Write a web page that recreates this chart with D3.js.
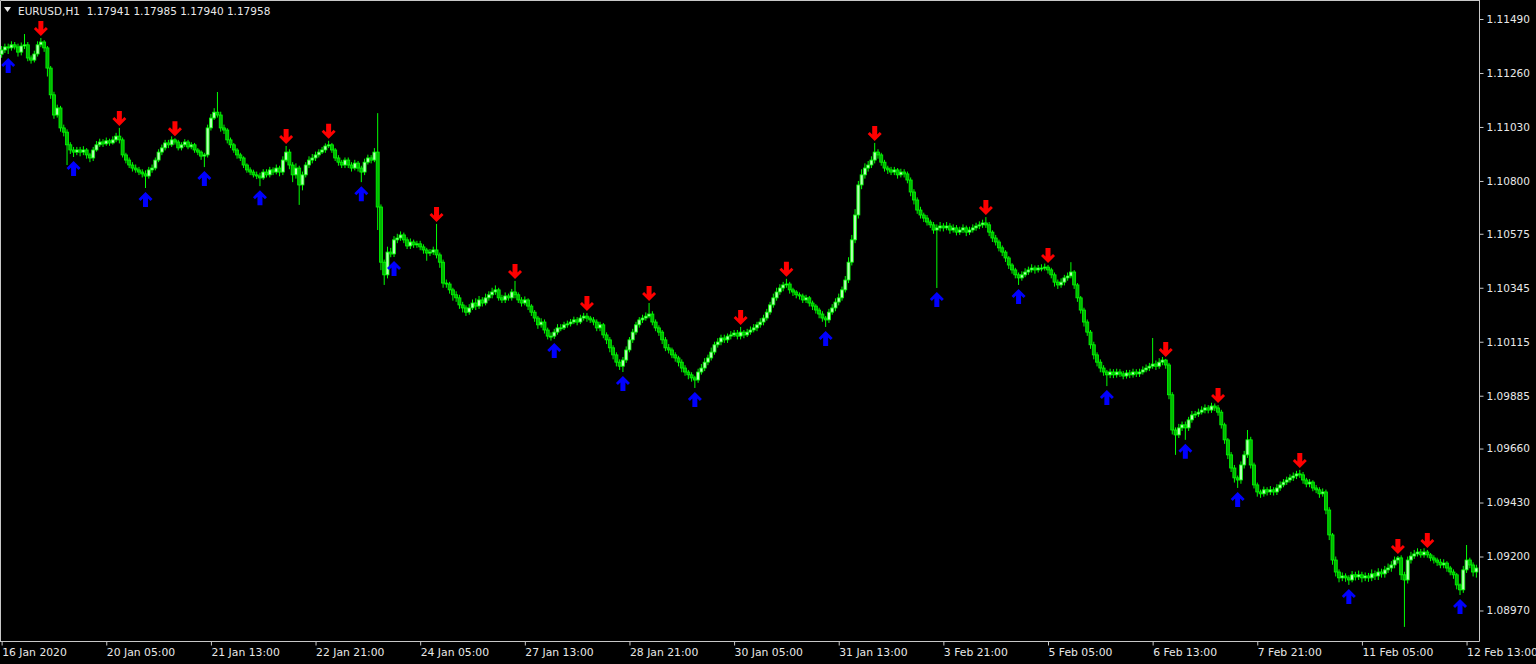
<!DOCTYPE html>
<html><head><meta charset="utf-8">
<script src="https://cdn.jsdelivr.net/npm/d3@7"></script>
<style>html,body{margin:0;padding:0;background:#000;overflow:hidden}</style>
</head><body><svg id="c" width="1536" height="664"></svg>
<script>
const symbolTitle = "EURUSD,H1";
const headerQuote = ["1.17941", "1.17985", "1.17940", "1.17958"];
const firstOpen = 1.11340;

const closes = [
1.11358,1.11371,1.11367,1.11380,1.11371,1.11349,1.11375,1.11380,1.11324,1.11315,
1.11341,1.11380,1.11392,1.11367,1.11281,1.11167,1.11081,1.11111,1.11026,1.11008,
1.10954,1.10932,1.10923,1.10932,1.10923,1.10932,1.10911,1.10898,1.10932,1.10954,
1.10966,1.10958,1.10971,1.10962,1.10975,1.10991,1.10975,1.10911,1.10889,1.10868,
1.10855,1.10847,1.10838,1.10830,1.10821,1.10847,1.10855,1.10889,1.10923,1.10941,
1.10962,1.10954,1.10975,1.10966,1.10941,1.10954,1.10966,1.10945,1.10954,1.10932,
1.10923,1.10906,1.10911,1.11026,1.11068,1.11093,1.11081,1.11026,1.11017,1.10975,
1.10954,1.10932,1.10911,1.10898,1.10868,1.10847,1.10838,1.10826,1.10821,1.10813,
1.10838,1.10826,1.10847,1.10838,1.10855,1.10838,1.10889,1.10923,1.10868,1.10826,
1.10855,1.10783,1.10826,1.10868,1.10889,1.10898,1.10911,1.10923,1.10932,1.10949,
1.10954,1.10932,1.10898,1.10880,1.10868,1.10889,1.10868,1.10855,1.10876,1.10855,
1.10838,1.10880,1.10898,1.10889,1.10923,1.10689,1.10454,1.10400,1.10497,1.10489,
1.10549,1.10557,1.10570,1.10549,1.10523,1.10540,1.10528,1.10532,1.10519,1.10506,
1.10493,1.10497,1.10506,1.10485,1.10454,1.10365,1.10361,1.10336,1.10315,1.10302,
1.10272,1.10259,1.10241,1.10259,1.10280,1.10267,1.10293,1.10280,1.10302,1.10315,
1.10327,1.10336,1.10302,1.10293,1.10310,1.10302,1.10327,1.10315,1.10293,1.10280,
1.10293,1.10267,1.10241,1.10216,1.10187,1.10199,1.10165,1.10139,1.10139,1.10156,
1.10174,1.10174,1.10187,1.10191,1.10199,1.10208,1.10199,1.10216,1.10224,1.10216,
1.10208,1.10199,1.10174,1.10187,1.10144,1.10123,1.10089,1.10059,1.10028,1.10011,
1.10037,1.10080,1.10123,1.10156,1.10187,1.10208,1.10216,1.10224,1.10233,1.10199,
1.10174,1.10156,1.10123,1.10089,1.10080,1.10059,1.10046,1.10028,1.10003,1.09986,
1.09974,1.09961,1.09952,1.09986,1.10003,1.10028,1.10046,1.10071,1.10102,1.10114,
1.10131,1.10123,1.10139,1.10144,1.10152,1.10139,1.10156,1.10144,1.10156,1.10165,
1.10174,1.10187,1.10199,1.10216,1.10241,1.10272,1.10302,1.10327,1.10344,1.10357,
1.10361,1.10336,1.10327,1.10315,1.10310,1.10293,1.10302,1.10280,1.10267,1.10250,
1.10233,1.10216,1.10208,1.10241,1.10259,1.10284,1.10302,1.10336,1.10378,1.10454,
1.10549,1.10655,1.10783,1.10826,1.10855,1.10868,1.10889,1.10923,1.10911,1.10880,
1.10855,1.10847,1.10838,1.10847,1.10826,1.10838,1.10830,1.10804,1.10753,1.10719,
1.10676,1.10655,1.10642,1.10625,1.10613,1.10591,1.10600,1.10608,1.10600,1.10608,
1.10591,1.10600,1.10582,1.10591,1.10600,1.10582,1.10591,1.10600,1.10608,1.10613,
1.10621,1.10613,1.10582,1.10557,1.10540,1.10515,1.10497,1.10472,1.10442,1.10421,
1.10400,1.10387,1.10400,1.10412,1.10421,1.10429,1.10421,1.10429,1.10429,1.10433,
1.10421,1.10400,1.10369,1.10357,1.10369,1.10387,1.10395,1.10412,1.10357,1.10302,
1.10250,1.10199,1.10156,1.10102,1.10059,1.10028,1.10003,1.09986,1.09974,1.09986,
1.09974,1.09986,1.09978,1.09969,1.09982,1.09974,1.09986,1.09978,1.09986,1.09995,
1.10003,1.10011,1.10020,1.10011,1.10028,1.10037,1.10016,1.09889,1.09739,1.09718,
1.09748,1.09761,1.09748,1.09782,1.09803,1.09807,1.09815,1.09824,1.09833,1.09824,
1.09841,1.09833,1.09815,1.09761,1.09697,1.09633,1.09577,1.09535,1.09526,1.09590,
1.09633,1.09697,1.09590,1.09505,1.09475,1.09467,1.09484,1.09475,1.09484,1.09475,
1.09492,1.09505,1.09517,1.09526,1.09535,1.09543,1.09552,1.09548,1.09526,1.09509,
1.09517,1.09492,1.09484,1.09467,1.09475,1.09398,1.09292,1.09185,1.09134,1.09109,
1.09117,1.09109,1.09100,1.09122,1.09113,1.09122,1.09109,1.09117,1.09109,1.09126,
1.09117,1.09134,1.09126,1.09143,1.09151,1.09164,1.09185,1.09194,1.09122,1.09100,
1.09185,1.09202,1.09211,1.09219,1.09207,1.09219,1.09207,1.09194,1.09185,1.09176,
1.09164,1.09172,1.09151,1.09134,1.09122,1.09079,1.09058,1.09143,1.09185,1.09164,
1.09134,1.09151
];

const highs = [
1.11375,1.11385,1.11385,1.11395,1.11392,1.11385,1.11390,1.11426,1.11392,1.11335,
1.11355,1.11395,1.11409,1.11400,1.11375,1.11290,1.11180,1.11125,1.11120,1.11040,
1.11020,1.10965,1.10945,1.10945,1.10945,1.10948,1.10940,1.10920,1.10945,1.10970,
1.10980,1.10978,1.10985,1.10980,1.10990,1.11005,1.11026,1.10985,1.10920,1.10900,
1.10880,1.10870,1.10860,1.10850,1.10845,1.10860,1.10870,1.10900,1.10935,1.10955,
1.10975,1.10975,1.10990,1.10982,1.10975,1.10965,1.10978,1.10975,1.10965,1.10962,
1.10940,1.10930,1.10920,1.11040,1.11085,1.11110,1.11179,1.11095,1.11040,1.11025,
1.10985,1.10962,1.10940,1.10920,1.10905,1.10875,1.10858,1.10848,1.10840,1.10835,
1.10850,1.10850,1.10860,1.10858,1.10870,1.10865,1.10905,1.10949,1.10935,1.10880,
1.10875,1.10865,1.10840,1.10880,1.10905,1.10915,1.10925,1.10935,1.10945,1.10960,
1.10971,1.10962,1.10940,1.10910,1.10890,1.10900,1.10900,1.10880,1.10890,1.10885,
1.10865,1.10895,1.10912,1.10910,1.10940,1.11089,1.10700,1.10465,1.10520,1.10515,
1.10565,1.10575,1.10585,1.10580,1.10560,1.10555,1.10550,1.10545,1.10545,1.10530,
1.10515,1.10510,1.10520,1.10617,1.10495,1.10465,1.10380,1.10370,1.10345,1.10330,
1.10315,1.10285,1.10270,1.10275,1.10295,1.10300,1.10310,1.10305,1.10320,1.10330,
1.10345,1.10355,1.10345,1.10315,1.10325,1.10320,1.10340,1.10374,1.10325,1.10305,
1.10308,1.10300,1.10275,1.10250,1.10225,1.10215,1.10210,1.10175,1.10155,1.10170,
1.10190,1.10190,1.10200,1.10205,1.10212,1.10222,1.10220,1.10230,1.10238,1.10237,
1.10225,1.10220,1.10210,1.10200,1.10195,1.10155,1.10135,1.10100,1.10070,1.10040,
1.10050,1.10095,1.10135,1.10170,1.10200,1.10220,1.10230,1.10240,1.10280,1.10245,
1.10210,1.10185,1.10165,1.10135,1.10105,1.10090,1.10070,1.10055,1.10040,1.10015,
1.09995,1.09985,1.09970,1.10000,1.10020,1.10045,1.10060,1.10090,1.10115,1.10130,
1.10145,1.10145,1.10150,1.10160,1.10165,1.10165,1.10178,1.10165,1.10170,1.10180,
1.10190,1.10200,1.10215,1.10230,1.10255,1.10285,1.10320,1.10345,1.10360,1.10370,
1.10383,1.10370,1.10345,1.10335,1.10325,1.10320,1.10315,1.10310,1.10290,1.10275,
1.10260,1.10245,1.10225,1.10255,1.10275,1.10300,1.10320,1.10350,1.10395,1.10475,
1.10570,1.10680,1.10800,1.10850,1.10875,1.10885,1.10905,1.10962,1.10935,1.10920,
1.10890,1.10865,1.10860,1.10860,1.10855,1.10852,1.10850,1.10840,1.10815,1.10765,
1.10730,1.10690,1.10665,1.10655,1.10635,1.10625,1.10615,1.10625,1.10620,1.10625,
1.10620,1.10615,1.10612,1.10605,1.10615,1.10610,1.10605,1.10615,1.10622,1.10628,
1.10635,1.10646,1.10625,1.10590,1.10570,1.10550,1.10525,1.10505,1.10480,1.10450,
1.10430,1.10410,1.10415,1.10428,1.10435,1.10445,1.10440,1.10442,1.10445,1.10448,
1.10442,1.10430,1.10410,1.10380,1.10385,1.10400,1.10410,1.10454,1.10420,1.10365,
1.10310,1.10260,1.10210,1.10165,1.10115,1.10070,1.10040,1.10015,1.09995,1.10000,
1.09998,1.10000,1.09998,1.09990,1.09995,1.09995,1.10000,1.09998,1.10000,1.10010,
1.10018,1.10025,1.10131,1.10035,1.10045,1.10050,1.10042,1.10025,1.09900,1.09750,
1.09765,1.09775,1.09775,1.09795,1.09820,1.09820,1.09830,1.09840,1.09848,1.09845,
1.09855,1.09852,1.09845,1.09825,1.09770,1.09705,1.09645,1.09590,1.09545,1.09605,
1.09650,1.09739,1.09710,1.09600,1.09515,1.09485,1.09498,1.09495,1.09500,1.09495,
1.09508,1.09520,1.09530,1.09540,1.09550,1.09558,1.09565,1.09569,1.09560,1.09535,
1.09530,1.09525,1.09505,1.09495,1.09490,1.09485,1.09410,1.09300,1.09200,1.09145,
1.09132,1.09128,1.09120,1.09138,1.09135,1.09140,1.09135,1.09132,1.09130,1.09145,
1.09140,1.09150,1.09148,1.09160,1.09170,1.09180,1.09200,1.09202,1.09205,1.09135,
1.09200,1.09220,1.09228,1.09235,1.09232,1.09235,1.09228,1.09215,1.09205,1.09195,
1.09190,1.09188,1.09180,1.09160,1.09145,1.09130,1.09085,1.09160,1.09249,1.09195,
1.09175,1.09165
];

const lows = [
1.11325,1.11345,1.11341,1.11355,1.11360,1.11330,1.11335,1.11362,1.11310,1.11300,
1.11305,1.11330,1.11370,1.11350,1.11245,1.11150,1.11065,1.11070,1.11010,1.10990,
1.10868,1.10915,1.10902,1.10910,1.10905,1.10910,1.10895,1.10880,1.10885,1.10925,
1.10945,1.10945,1.10950,1.10950,1.10955,1.10965,1.10960,1.10900,1.10875,1.10855,
1.10840,1.10835,1.10825,1.10815,1.10770,1.10810,1.10835,1.10845,1.10880,1.10910,
1.10930,1.10940,1.10945,1.10955,1.10930,1.10930,1.10945,1.10935,1.10935,1.10920,
1.10910,1.10890,1.10859,1.10900,1.11015,1.11060,1.11070,1.11010,1.11000,1.10960,
1.10940,1.10920,1.10895,1.10885,1.10855,1.10835,1.10825,1.10815,1.10808,1.10778,
1.10805,1.10815,1.10815,1.10825,1.10828,1.10820,1.10825,1.10880,1.10850,1.10795,
1.10810,1.10698,1.10760,1.10815,1.10855,1.10875,1.10885,1.10900,1.10915,1.10920,
1.10940,1.10920,1.10885,1.10865,1.10855,1.10855,1.10855,1.10840,1.10845,1.10840,
1.10795,1.10825,1.10870,1.10875,1.10880,1.10591,1.10420,1.10357,1.10385,1.10475,
1.10476,1.10535,1.10545,1.10535,1.10510,1.10510,1.10515,1.10515,1.10505,1.10490,
1.10460,1.10480,1.10485,1.10470,1.10430,1.10345,1.10345,1.10320,1.10290,1.10285,
1.10255,1.10240,1.10225,1.10230,1.10250,1.10250,1.10255,1.10265,1.10270,1.10290,
1.10300,1.10315,1.10290,1.10280,1.10280,1.10290,1.10290,1.10300,1.10280,1.10265,
1.10270,1.10250,1.10225,1.10200,1.10170,1.10175,1.10150,1.10125,1.10120,1.10127,
1.10145,1.10160,1.10165,1.10175,1.10180,1.10190,1.10185,1.10190,1.10205,1.10200,
1.10195,1.10185,1.10160,1.10160,1.10130,1.10105,1.10070,1.10040,1.10010,1.09995,
1.09986,1.10025,1.10070,1.10110,1.10145,1.10175,1.10195,1.10205,1.10215,1.10185,
1.10160,1.10140,1.10105,1.10075,1.10065,1.10045,1.10030,1.10010,1.09985,1.09970,
1.09955,1.09945,1.09918,1.09940,1.09975,1.09990,1.10015,1.10035,1.10060,1.10090,
1.10100,1.10110,1.10110,1.10125,1.10135,1.10125,1.10125,1.10130,1.10135,1.10145,
1.10155,1.10160,1.10175,1.10185,1.10205,1.10230,1.10260,1.10290,1.10315,1.10330,
1.10345,1.10320,1.10310,1.10300,1.10295,1.10280,1.10280,1.10265,1.10250,1.10235,
1.10215,1.10200,1.10178,1.10195,1.10230,1.10245,1.10270,1.10290,1.10325,1.10365,
1.10440,1.10535,1.10640,1.10765,1.10810,1.10840,1.10855,1.10875,1.10895,1.10865,
1.10840,1.10830,1.10825,1.10825,1.10810,1.10815,1.10815,1.10790,1.10735,1.10700,
1.10660,1.10640,1.10625,1.10610,1.10600,1.10575,1.10344,1.10585,1.10585,1.10590,
1.10575,1.10580,1.10568,1.10570,1.10578,1.10565,1.10570,1.10580,1.10588,1.10595,
1.10600,1.10600,1.10565,1.10540,1.10525,1.10500,1.10480,1.10455,1.10425,1.10405,
1.10385,1.10357,1.10375,1.10390,1.10400,1.10410,1.10405,1.10410,1.10415,1.10418,
1.10405,1.10385,1.10350,1.10340,1.10345,1.10355,1.10375,1.10385,1.10340,1.10285,
1.10235,1.10180,1.10140,1.10085,1.10040,1.10010,1.09985,1.09970,1.09926,1.09960,
1.09960,1.09962,1.09965,1.09955,1.09958,1.09960,1.09962,1.09965,1.09965,1.09975,
1.09985,1.09990,1.10000,1.09995,1.10000,1.10015,1.10000,1.09870,1.09720,1.09633,
1.09705,1.09735,1.09697,1.09735,1.09770,1.09790,1.09795,1.09805,1.09810,1.09810,
1.09812,1.09820,1.09800,1.09745,1.09680,1.09615,1.09560,1.09515,1.09492,1.09510,
1.09575,1.09620,1.09575,1.09490,1.09455,1.09450,1.09455,1.09460,1.09462,1.09460,
1.09462,1.09480,1.09495,1.09505,1.09515,1.09522,1.09530,1.09535,1.09510,1.09495,
1.09495,1.09478,1.09470,1.09450,1.09455,1.09380,1.09270,1.09165,1.09115,1.09090,
1.09095,1.09092,1.09079,1.09090,1.09098,1.09100,1.09090,1.09095,1.09092,1.09095,
1.09100,1.09100,1.09110,1.09110,1.09130,1.09135,1.09150,1.09170,1.09100,1.08900,
1.09085,1.09170,1.09190,1.09200,1.09195,1.09195,1.09195,1.09180,1.09170,1.09160,
1.09150,1.09150,1.09135,1.09120,1.09105,1.09060,1.09036,1.09045,1.09130,1.09150,
1.09115,1.09110
];

const sellSignals = [12,36,53,87,100,133,157,179,198,226,240,267,301,320,356,372,397,427,436];
const buySignals = [2,22,44,62,79,110,120,169,190,212,252,286,311,338,362,378,412,446];

const priceTicks = [1.11490,1.11260,1.11030,1.10800,1.10575,1.10345,1.10115,1.09885,1.09660,1.09430,1.09200,1.08970];
const timeLabels = ["16 Jan 2020","20 Jan 05:00","21 Jan 13:00","22 Jan 21:00","24 Jan 05:00","27 Jan 13:00","28 Jan 21:00","30 Jan 05:00","31 Jan 13:00","3 Feb 21:00","5 Feb 05:00","6 Feb 13:00","7 Feb 21:00","11 Feb 05:00","12 Feb 13:00"];
const timeLabelBars = [0,32,64,96,128,160,192,224,256,288,320,352,384,416,448];

// ---- drawing ----
const n = Math.min(closes.length, highs.length, lows.length);
const bars = d3.range(n).map(i => ({
  i,
  o: i === 0 ? firstOpen : closes[i - 1],
  c: closes[i], h: highs[i], l: lows[i]
}));

const plotRight = 1479, plotBottom = 641;
const x = d3.scaleLinear().domain([-0.5, n - 0.5]).range([0, 1478]);
const y = d3.scaleLinear().domain([1.08840, 1.11571]).range([plotBottom, 0]);

const svg = d3.select("#c");
svg.append("rect").attr("width", 1536).attr("height", 664).attr("fill", "#000");

const font = "'DejaVu Sans', Tahoma, sans-serif";
const txtCol = "#e8e8e8";
const lineCol = "#c8c8c8";

// frame
svg.append("path")
  .attr("d", `M0.5,${plotBottom + 0.5} L0.5,0.5 L${plotRight + 0.5},0.5`)
  .attr("fill", "none").attr("stroke", lineCol).attr("stroke-width", 1);

// candles
const g = svg.append("g");
const bw = 3;
bars.forEach(b => {
  const cx = x(b.i);
  const up = b.c >= b.o;
  g.append("line")
    .attr("x1", cx).attr("x2", cx)
    .attr("y1", y(b.h)).attr("y2", y(b.l))
    .attr("stroke", "#00ff00").attr("stroke-width", 1);
  const top = y(Math.max(b.o, b.c)), bot = y(Math.min(b.o, b.c));
  g.append("rect")
    .attr("x", cx - bw / 2).attr("y", top)
    .attr("width", bw).attr("height", Math.max(1, bot - top))
    .attr("fill", up ? "#b4ffb4" : "#00b800")
    .attr("stroke", "#00ff00").attr("stroke-width", 0.8);
});

// signal arrows
const downArrow = "M0,0 L-7,-7 L-5,-9 L-2.5,-6.5 L-2.5,-15 L2.5,-15 L2.5,-6.5 L5,-9 L7,-7 Z";
svg.append("g").selectAll("path").data(sellSignals.filter(i => i < n)).join("path")
  .attr("d", downArrow)
  .attr("transform", i => `translate(${x(i)},${y(highs[i]) - 2})`)
  .attr("fill", "#ff0000");
svg.append("g").selectAll("path").data(buySignals.filter(i => i < n)).join("path")
  .attr("d", downArrow)
  .attr("transform", i => `translate(${x(i)},${y(lows[i]) + 4}) scale(1,-1)`)
  .attr("fill", "#0000ff");

// right price axis
const yAxis = d3.axisRight(y).tickValues(priceTicks).tickFormat(d3.format(".5f")).tickSize(4).tickSizeOuter(0);
const ya = svg.append("g").attr("transform", `translate(${plotRight + 0.5},0)`).call(yAxis);
ya.select(".domain").remove();
ya.selectAll(".tick line").attr("stroke", lineCol);
ya.selectAll(".tick text").attr("fill", txtCol).attr("font-family", font).attr("font-size", "10.5px").attr("x", 7);
svg.append("line").attr("x1", plotRight + 0.5).attr("x2", plotRight + 0.5)
  .attr("y1", 0).attr("y2", plotBottom + 0.5).attr("stroke", lineCol);

// bottom time axis
const xAxis = d3.axisBottom(x).tickValues(timeLabelBars)
  .tickFormat((d, k) => timeLabels[k]).tickSize(4).tickSizeOuter(0);
const xa = svg.append("g").attr("transform", `translate(0,${plotBottom + 0.5})`).call(xAxis);
xa.select(".domain").remove();
xa.selectAll(".tick line").attr("stroke", lineCol);
xa.selectAll(".tick text").attr("fill", txtCol).attr("font-family", font).attr("font-size", "10.8px")
  .attr("text-anchor", "start").attr("x", 0).attr("y", 7);
svg.append("line").attr("x1", 0).attr("x2", plotRight + 0.5)
  .attr("y1", plotBottom + 0.5).attr("y2", plotBottom + 0.5).attr("stroke", lineCol);

// header
svg.append("path").attr("d", "M4,7 L11,7 L7.5,12 Z").attr("fill", txtCol);
svg.append("text").attr("x", 18).attr("y", 15)
  .attr("fill", txtCol).attr("font-family", font).attr("font-size", "10.5px")
  .style("white-space", "pre")
  .text(symbolTitle + "  " + headerQuote.join(" "));
</script>
</body></html>
